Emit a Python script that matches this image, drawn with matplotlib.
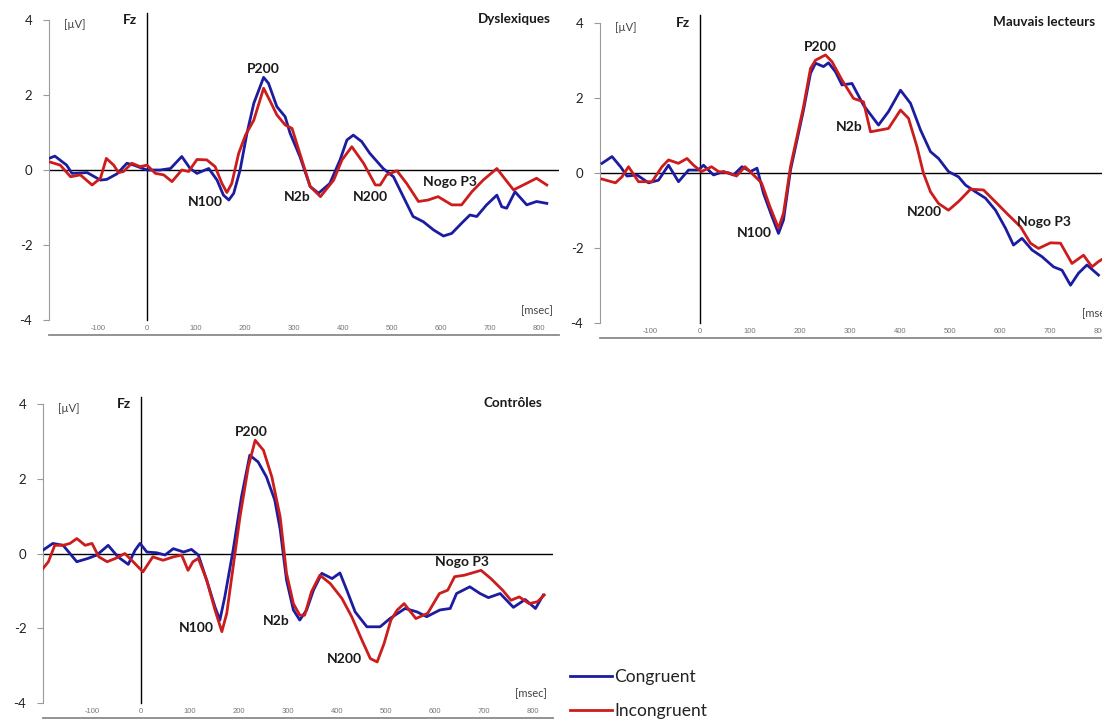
import numpy as np
import matplotlib.pyplot as plt

plt.rcParams['font.family'] = ['Lato', 'DejaVu Sans']

# ERP amplitudes at Fz (µV), time in ms
# Dyslexiques
dysCongTime = [-200, -188, -164, -153, -122, -95, -82, -61, -41, -27, 0, 27, 48, 71, 88, 102, 126, 143, 156, 167,
               177, 190, 204, 218, 238, 248, 265, 282, 292, 312, 333, 350, 373, 394, 408, 421, 438, 455, 482, 503,
               523, 543, 564, 585, 605, 622, 642, 659, 673, 693, 714, 724, 734, 751, 775, 795, 816]
dysCongAmp = [0.31, 0.37, 0.13, -0.09, -0.07, -0.27, -0.25, -0.1, 0.18, 0.13, 0, 0, 0.04, 0.36, 0.04, -0.09, 0.04, -0.27,
              -0.67, -0.8, -0.62, 0, 0.98, 1.78, 2.47, 2.31, 1.69, 1.42, 0.98, 0.36, -0.44, -0.62, -0.36, 0.27, 0.8,
              0.93, 0.76, 0.44, 0.04, -0.18, -0.71, -1.24, -1.38, -1.6, -1.76, -1.69, -1.42, -1.2, -1.24, -0.93, -0.67,
              -0.98, -1.02, -0.58, -0.93, -0.84, -0.89]
dysIncTime = [-200, -177, -156, -136, -112, -95, -83, -68, -58, -48, -31, -14, 0, 17, 34, 51, 71, 85, 102, 122, 139,
              153, 163, 173, 187, 201, 218, 238, 252, 265, 282, 296, 312, 333, 354, 381, 398, 418, 442, 466, 476, 489,
              510, 530, 554, 574, 594, 622, 642, 663, 686, 714, 727, 748, 768, 795, 816]
dysIncAmp = [0.22, 0.13, -0.18, -0.13, -0.4, -0.22, 0.31, 0.13, -0.07, -0.04, 0.18, 0.09, 0.13, -0.09, -0.13, -0.31, 0,
             -0.04, 0.28, 0.27, 0.09, -0.36, -0.6, -0.36, 0.44, 0.93, 1.33, 2.18, 1.82, 1.47, 1.2, 1.11, 0.44, -0.44,
             -0.71, -0.27, 0.27, 0.62, 0.18, -0.4, -0.4, -0.13, -0.02, -0.36, -0.84, -0.8, -0.71, -0.93, -0.93, -0.58,
             -0.27, 0.04, -0.18, -0.53, -0.4, -0.22, -0.4]

# Mauvais lecteurs
mlCongTime = [-196, -176, -159, -146, -126, -103, -83, -63, -43, -23, -3, 7, 27, 47, 67, 84, 101, 114, 127, 144, 157,
              167, 181, 194, 207, 221, 231, 247, 257, 271, 284, 304, 327, 357, 377, 401, 421, 441, 461, 477, 497, 517,
              531, 551, 571, 591, 611, 627, 644, 664, 684, 707, 724, 741, 757, 774, 797]
mlCongAmp = [0.25, 0.43, 0.16, -0.09, -0.06, -0.27, -0.2, 0.2, -0.24, 0.07, 0.07, 0.2, -0.06, 0.03, -0.06, 0.16, 0.03,
             0.12, -0.55, -1.17, -1.62, -1.26, 0.07, 0.87, 1.67, 2.65, 2.92, 2.83, 2.93, 2.69, 2.34, 2.38, 1.8, 1.27,
             1.63, 2.2, 1.85, 1.14, 0.56, 0.38, 0.03, -0.11, -0.33, -0.51, -0.68, -1.0, -1.48, -1.93, -1.75, -2.06,
             -2.24, -2.51, -2.6, -3.0, -2.68, -2.46, -2.73]
mlIncTime = [-196, -169, -156, -143, -123, -96, -76, -63, -43, -26, -13, 3, 23, 37, 57, 73, 90, 107, 123, 140, 157, 167,
             181, 194, 207, 221, 231, 251, 264, 284, 307, 327, 341, 377, 401, 417, 434, 447, 461, 477, 497, 517, 541,
             567, 594, 617, 641, 661, 677, 701, 721, 744, 767, 784, 797, 808]
mlIncAmp = [-0.17, -0.27, -0.11, 0.16, -0.24, -0.24, 0.16, 0.34, 0.25, 0.38, 0.2, 0.03, 0.16, 0.03, 0, -0.09, 0.16,
            -0.06, -0.27, -0.91, -1.48, -1.08, 0.16, 0.96, 1.76, 2.78, 3.0, 3.14, 2.96, 2.47, 1.98, 1.89, 1.09, 1.18,
            1.67, 1.45, 0.69, -0.02, -0.51, -0.82, -1.0, -0.77, -0.44, -0.46, -0.82, -1.13, -1.44, -1.88, -2.02, -1.87,
            -1.88, -2.42, -2.2, -2.51, -2.37, -2.28]

# Contrôles
ctlCongTime = [-200, -180, -159, -131, -108, -90, -67, -47, -26, -12, -2, 12, 32, 49, 66, 87, 103, 117, 134, 151, 161,
               171, 188, 205, 222, 239, 256, 273, 284, 297, 311, 324, 338, 352, 369, 390, 406, 420, 437, 461, 488, 508,
               539, 563, 583, 610, 631, 644, 671, 692, 709, 733, 760, 784, 805, 821]
ctlCongAmp = [0.09, 0.27, 0.22, -0.22, -0.13, -0.04, 0.22, -0.09, -0.29, 0.09, 0.27, 0.04, 0.02, -0.04, 0.13, 0.04,
              0.11, -0.04, -0.71, -1.43, -1.78, -1.16, 0.09, 1.51, 2.63, 2.45, 2.05, 1.43, 0.65, -0.71, -1.51, -1.78,
              -1.51, -0.98, -0.53, -0.67, -0.52, -0.98, -1.56, -1.96, -1.96, -1.74, -1.47, -1.56, -1.69, -1.51, -1.47,
              -1.07, -0.89, -1.07, -1.18, -1.07, -1.44, -1.23, -1.47, -1.11]
ctlIncTime = [-200, -189, -176, -159, -145, -131, -114, -100, -86, -69, -52, -33, -16, 4, 24, 45, 66, 83, 96, 106, 117,
              134, 151, 165, 175, 188, 202, 219, 233, 250, 267, 284, 297, 311, 324, 334, 348, 365, 386, 410, 430, 451,
              468, 482, 496, 510, 523, 537, 561, 585, 609, 626, 640, 660, 694, 714, 738, 755, 772, 792, 809, 823]
ctlIncAmp = [-0.4, -0.22, 0.22, 0.22, 0.27, 0.4, 0.22, 0.27, -0.09, -0.22, -0.13, 0, -0.22, -0.49, -0.09, -0.18, -0.09,
             -0.04, -0.45, -0.22, -0.13, -0.71, -1.51, -2.09, -1.6, -0.36, 0.98, 2.32, 3.03, 2.76, 2.05, 0.98, -0.53,
             -1.34, -1.65, -1.65, -1.02, -0.58, -0.8, -1.2, -1.69, -2.32, -2.81, -2.9, -2.41, -1.78, -1.51, -1.34, -1.74,
             -1.6, -1.07, -0.98, -0.62, -0.58, -0.45, -0.67, -0.98, -1.25, -1.16, -1.34, -1.29, -1.11]

groupNames = ["Dyslexiques", "Mauvais lecteurs", "Contrôles"]
conditionNames = ["Congruent", "Incongruent"]
yTicks = [-4, -2, 0, 2, 4]
xTicks = [-100, 0, 100, 200, 300, 400, 500, 600, 700, 800]

# component labels (text, ms, µV) for each panel
dysLabels = [("P200", 237, 2.69), ("N100", 120, -0.86), ("N2b", 306, -0.72), ("N200", 455, -0.72), ("Nogo P3", 618, -0.31)]
mlLabels = [("P200", 240, 3.36), ("N100", 108, -1.62), ("N2b", 298, 1.23), ("N200", 448, -1.04), ("Nogo P3", 688, -1.31)]
ctlLabels = [("P200", 226, 3.25), ("N100", 114, -1.98), ("N2b", 277, -1.8), ("N200", 416, -2.83), ("Nogo P3", 655, -0.22)]

blue = "#1c1ca0"
red = "#cc1c1c"
W, H = 1102, 722


def pxRect(left, top, right, bottom):
    return [left / W, 1 - bottom / H, (right - left) / W, (bottom - top) / H]


def erpPanel(ax, congT, congV, incT, incV, groupName, labels, titleX):
    cong, = ax.plot(congT, congV, color=blue, lw=2.0, solid_joinstyle="round", label=conditionNames[0], zorder=3)
    inc, = ax.plot(incT, incV, color=red, lw=2.0, solid_joinstyle="round", label=conditionNames[1], zorder=4)

    ax.axhline(0, color="black", lw=1.0, zorder=2)
    ax.axvline(0, ymin=0.4 / 8.4, ymax=8.6 / 8.4, color="black", lw=1.0, clip_on=False, zorder=2)

    ax.set_xlim(-200, 840)
    ax.set_ylim(-4.4, 4)

    for s in ["top", "right"]:
        ax.spines[s].set_visible(False)
    ax.spines["left"].set_bounds(-4, 4)
    ax.spines["left"].set_color("#9a9a9a")
    ax.spines["bottom"].set_color("#8a8a8a")
    ax.spines["bottom"].set_linestyle((0, (1.0, 1.0)))
    ax.spines["bottom"].set_linewidth(1.3)

    ax.set_yticks(yTicks)
    ax.set_yticklabels([str(v) for v in yTicks])
    ax.tick_params(axis="y", length=4, color="#9a9a9a", labelsize=9.5, labelcolor="#222222", pad=8)
    ax.set_xticks(xTicks)
    ax.set_xticklabels([str(v) for v in xTicks])
    ax.tick_params(axis="x", length=0, labelsize=5.5, labelcolor="#777777", pad=-7)
    for lab in ax.get_xticklabels():
        lab.set_family(["Liberation Sans", "DejaVu Sans"])

    ax.text(-170, 3.88, "[µV]", fontsize=8, color="#444444", ha="left", va="center")
    ax.text(-35, 4.0, "Fz", fontsize=10, fontweight="bold", color="#1a1a1a", ha="center", va="center")
    ax.text(titleX, 4.03, groupName, fontsize=9.7, fontweight="bold", color="#1a1a1a", ha="right", va="center")
    ax.text(795, -3.76, "[msec]", fontsize=8, color="#444444", ha="center", va="center")

    for txt, t, v in labels:
        ax.text(t, v, txt, fontsize=10, fontweight="bold", color="#1a1a1a", ha="center", va="center", zorder=5)

    return cong, inc


fig = plt.figure(figsize=(W / 100, H / 100), dpi=100)

ax1 = fig.add_axes(pxRect(49, 20, 558.6, 335))
ax2 = fig.add_axes(pxRect(600, 22.7, 1120, 337.7))
ax3 = fig.add_axes(pxRect(43, 404, 552.6, 718))

cong, inc = erpPanel(ax1, dysCongTime, dysCongAmp, dysIncTime, dysIncAmp, groupNames[0], dysLabels, 824)
erpPanel(ax2, mlCongTime, mlCongAmp, mlIncTime, mlIncAmp, groupNames[1], mlLabels, 790)
erpPanel(ax3, ctlCongTime, ctlCongAmp, ctlIncTime, ctlIncAmp, groupNames[2], ctlLabels, 818)

fig.legend(handles=[cong, inc], loc="upper left", bbox_to_anchor=(570 / W, 1 - 669 / H), frameon=False,
           fontsize=12.5, handlelength=2.4, handletextpad=0.15, labelspacing=1.05, borderpad=0, borderaxespad=0,
           labelcolor="#222222")

fig.savefig("out.png", dpi=100)
